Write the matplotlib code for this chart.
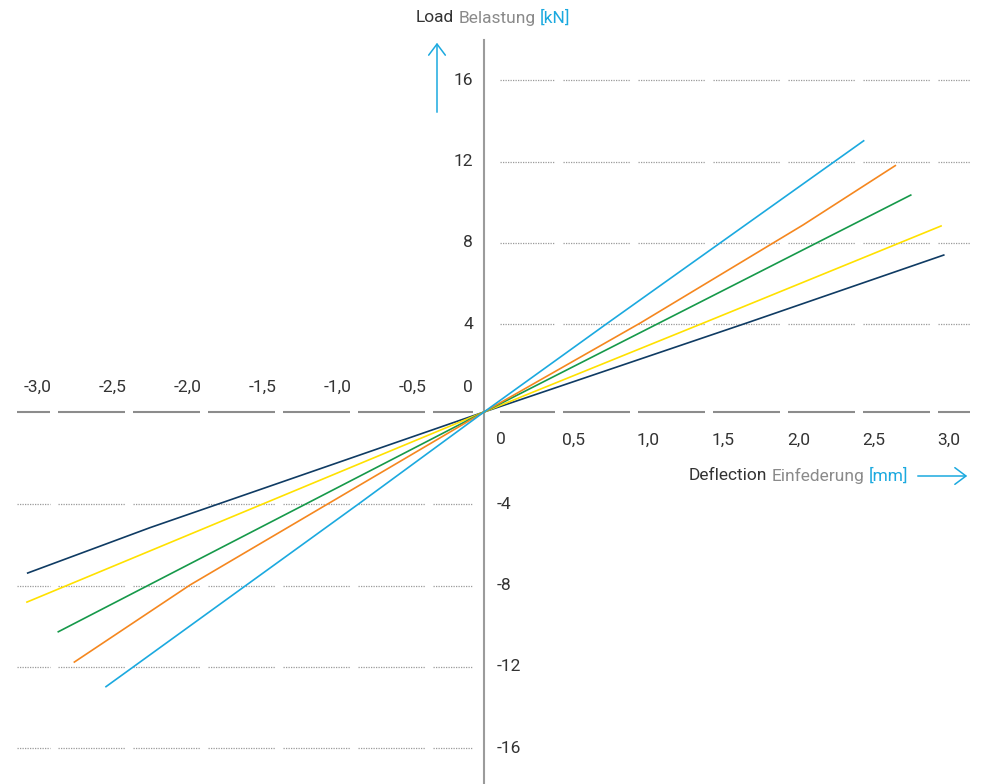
import matplotlib
matplotlib.use("Agg")
import matplotlib.pyplot as plt
from matplotlib.patches import FancyArrowPatch

plt.rcParams['font.family'] = ['Roboto', 'DejaVu Sans']

# load / deflection curves (mm, kN)
cyan_x = [-2.52, -0.83, 0.0, 0.827, 2.531]
cyan_y = [-13.51, -4.49, 0.0, 4.39, 13.34]
orange_x = [-2.731, -1.96, 0.0, 1.045, 2.127, 2.742]
orange_y = [-12.30, -8.51, 0.0, 4.39, 9.20, 12.12]
green_x = [-2.838, 0.0, 1.171, 2.845]
green_y = [-10.81, 0.0, 4.39, 10.67]
yellow_x = [-3.047, 0.0, 1.467, 3.047]
yellow_y = [-9.35, 0.0, 4.39, 9.15]
navy_x = [-3.042, -2.227, 0.0, 1.756, 3.065]
navy_y = [-7.92, -5.69, 0.0, 4.39, 7.72]

series = [
    (navy_x, navy_y, "#0f3b63"),
    (yellow_x, yellow_y, "#ffe100"),
    (green_x, green_y, "#16994a"),
    (orange_x, orange_y, "#f5871f"),
    (cyan_x, cyan_y, "#1ba9df"),
]

pos_xticks = [0.5, 1.0, 1.5, 2.0, 2.5, 3.0]
neg_xticks = [-0.5, -1.0, -1.5, -2.0, -2.5, -3.0]
pos_yticks = [4, 8, 12, 16]
neg_yticks = [-4, -8, -12, -16]

W, H = 984, 784
fig = plt.figure(figsize=(W / 100, H / 100), dpi=100)
ax = fig.add_axes([0, 0, 1, 1])
ax.set_xlim(-484 / 150, 500 / 150)
ax.set_ylim((412 - 784) / 20.33, 412 / 20.33)
ax.axis("off")

GRAY = "#8c8c8c"
DOT = "#9a9a9a"
TXT = "#333333"
FS = 12.5
px = 1 / 150        # one pixel in mm
neg_shift = 20 * px  # left half grid sits a bit to the right
g = 4 * px


def lab(v):
    return f"{v:.1f}".replace(".", ",")


# segments of the dashed axis / dotted grid
pos_segs = []
prev = 16 * px
for t in pos_xticks:
    pos_segs.append((prev, t - g))
    prev = t + g
pos_segs.append((prev, 486 * px))
neg_segs = []
prev = -11 * px
for t in neg_xticks:
    neg_segs.append((t + neg_shift + g, prev))
    prev = t + neg_shift - g
neg_segs.append((-467 * px, prev))

for a, b in pos_segs + neg_segs:
    ax.plot([a, b], [0, 0], color=GRAY, lw=1.5, solid_capstyle="butt", zorder=2)

for t in pos_yticks:
    yy = t + 0.32
    for a, b in pos_segs:
        ax.plot([a, b], [yy, yy], color=DOT, lw=0.9, ls=(0, (1, 1)), zorder=1)
    ax.text(-11 * px, yy, str(t), ha="right", va="center", fontsize=FS, color=TXT)
for t in neg_yticks:
    yy = t - 0.54
    for a, b in neg_segs:
        ax.plot([a, b], [yy, yy], color=DOT, lw=0.9, ls=(0, (1, 1)), zorder=1)
    ax.text(13 * px, yy, str(t), ha="left", va="center", fontsize=FS, color=TXT)

# y axis
ax.plot([0, 0], [(412 - 40) / 20.33, -20], color="#9b9b9b", lw=1.5, zorder=2)

# x tick labels
for t in pos_xticks:
    ax.text(t + 3 * px, -28 / 20.33, lab(t), ha="left", va="center", fontsize=FS, color=TXT)
ax.text(12 * px, -28 / 20.33, "0", ha="left", va="center", fontsize=FS, color=TXT)
for t in neg_xticks:
    ax.text(t + neg_shift - 2 * px, 25 / 20.33, lab(t), ha="right", va="center", fontsize=FS, color=TXT)
ax.text(-11 * px, 24 / 20.33, "0", ha="right", va="center", fontsize=FS, color=TXT)

# curves
for xs, ys, c in series:
    ax.plot(xs, ys, color=c, lw=1.2, zorder=3)


# titles with three colours
def multi(x0, y0, parts):
    r = fig.canvas.get_renderer()
    x = x0
    for s, c in parts:
        t = fig.text(x / W, 1 - y0 / H, s, color=c, fontsize=FS, va="center", ha="left")
        bb = t.get_window_extent(r)
        x = bb.x1 + 4


multi(416, 18, [("Load", TXT), ("Belastung", "#8a8a8a"), ("[kN]", "#1ba9df")])
multi(689, 476, [("Deflection", TXT), ("Einfederung", "#8a8a8a"), ("[mm]", "#1ba9df")])

fig.patches.append(FancyArrowPatch((437 / W, 1 - 115 / H), (437 / W, 1 - 40 / H),
                                   transform=fig.transFigure, arrowstyle="->,head_length=0.4,head_width=0.3",
                                   mutation_scale=20, color="#1ba9df", lw=1.1))
fig.patches.append(FancyArrowPatch((915 / W, 1 - 476 / H), (970 / W, 1 - 476 / H),
                                   transform=fig.transFigure, arrowstyle="->,head_length=0.4,head_width=0.3",
                                   mutation_scale=20, color="#1ba9df", lw=1.1))

fig.savefig("out.png", dpi=100)
